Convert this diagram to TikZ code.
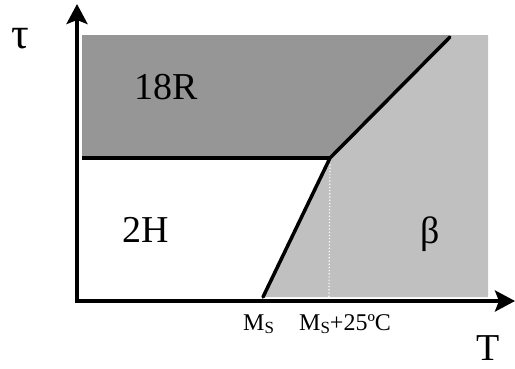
\documentclass[tikz,border=0pt]{standalone}
\usepackage{fontspec}
\setmainfont{Liberation Serif}
\usetikzlibrary{arrows.meta,calc}
\definecolor{darkregion}{RGB}{150,150,150}
\definecolor{lightregion}{RGB}{192,192,192}
\tikzset{
  axisline/.style={line width=3.8pt,-{Stealth[length=20pt,width=21pt,inset=4pt]}},
  boundary/.style={line width=3.5pt},
  bigtext/.style={inner sep=0pt,anchor=base west,font=\fontsize{38}{40}\selectfont},
  smalltext/.style={inner sep=0pt,anchor=base west,font=\fontsize{24}{26}\selectfont},
}
\newcommand{\msub}{M\raisebox{-0.3ex}{\fontsize{17}{17}\selectfont S}}
\begin{document}
\begin{tikzpicture}[x=1pt,y=-1pt]
\useasboundingbox (0,0) rectangle (515,368);
% key points
\coordinate (tl) at (82,35);
\coordinate (tr) at (488,35);
\coordinate (br) at (488,297);
\coordinate (left) at (82,158);
\coordinate (corner) at (330,158);
\coordinate (topend) at (451,35);
\coordinate (lineend) at (450,37);
\coordinate (bottomend) at (263,297);
\coordinate (dotend) at (329,297);
\coordinate (origin) at (77,301);
\coordinate (ytip) at (77,4);
\coordinate (xtip) at (515,301);
% regions
\fill[darkregion] (tl) -- (topend) -- (corner) -- (left) -- cycle;
\fill[lightregion] (topend) -- (tr) -- (br) -- (bottomend) -- (corner) -- cycle;
% boundaries
\draw[white,line width=1.2pt,dotted] (corner) -- (dotend);
\draw[boundary] (left) -- (corner);
\draw[boundary,line cap=round] (bottomend) -- (corner) -- (lineend);
% axes
\draw[axisline] (origin) -- (ytip);
\draw[axisline] ([xshift=-1.9pt]origin) -- (xtip);
% labels
\node[bigtext,font=\fontsize{44}{46}\selectfont] (tau) at (11,48) {τ};
\node[bigtext] (r18) at (134,99) {18R};
\node[bigtext] (h2) at (122,242) {2H};
\node[bigtext] (beta) at (420,243) {β};
\node[bigtext] (tlab) at (476,360) {T};
\node[smalltext] (ms) at (243,330) {\msub};
\node[smalltext] (ms25) at (299,330) {\msub+25ºC};
\end{tikzpicture}
\end{document}
